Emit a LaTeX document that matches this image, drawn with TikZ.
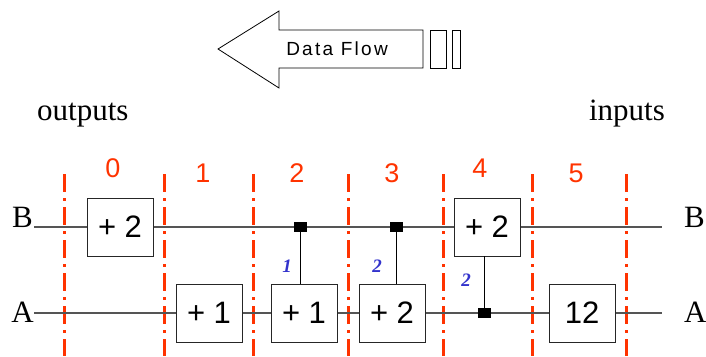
\documentclass[tikz,border=0pt]{standalone}
\usepackage{fontspec}
\setmainfont{Liberation Serif}
\newfontfamily\opfont{Liberation Sans}
\newfontfamily\flowfont[LetterSpace=12]{Liberation Sans}
\definecolor{stagered}{RGB}{255,51,0}
\definecolor{wirecol}{RGB}{85,85,85}
\definecolor{weightblue}{RGB}{51,51,204}
\tikzset{
  op/.style={draw=black!85,fill=white,line width=0.9pt,minimum width=66pt,
             minimum height=58pt,inner sep=0pt,
             font=\opfont\fontsize{31}{31}\selectfont},
  tap/.style={fill=black,minimum width=13pt,minimum height=10pt,inner sep=0pt},
  stage/.style={stagered,line width=3pt,dash pattern=on 18pt off 6pt on 3pt off 6pt},
  stagenum/.style={text=stagered,anchor=base,font=\opfont\fontsize{27}{27}\selectfont},
  wire/.style={wirecol,line width=1.2pt},
  weight/.style={text=weightblue,font=\bfseries\itshape\fontsize{19}{19}\selectfont},
  side/.style={inner sep=0pt,font=\fontsize{31}{31}\selectfont}}

\begin{document}
\begin{tikzpicture}[x=1pt,y=-1pt]
  \def\yB{227}  % wire B
  \def\yA{313}  % wire A
  \useasboundingbox (0,0) rectangle (706,356);
  \coordinate (Bl) at (34,\yB);   % left end wire B
  \coordinate (Br) at (662,\yB);  % right end wire B
  \coordinate (Al) at (34,\yA);   % left end wire A
  \coordinate (Ar) at (662,\yA);  % right end wire A

  % DATA FLOW ARROW
  \draw[line width=0.8pt] (218,49) -- (279,11) -- (279,30) -- (423,30)
    -- (423,68) -- (279,68) -- (279,88) -- cycle;
  \draw[line width=0.8pt] (430,30) rectangle (446,68);
  \draw[line width=0.8pt] (452,30) rectangle (460,68);
  \node[font=\flowfont\fontsize{19}{19}\selectfont] (flow) at (337,49) {Data Flow};
  \node[side,anchor=base west] (out) at (37,120) {outputs};
  \node[side,anchor=base east] (in) at (665,120) {inputs};

  % STAGES
  \foreach \x in {64,164,253,348,443,532,626}
    \draw[stage] (\x,174) -- (\x,356);
  \foreach \x/\y/\n in {113/177/0,203/182/1,297/182/2,392/182/3,480/177/4,576/182/5}
    \node[stagenum] (s\n) at (\x,\y) {\n};

  % WIRES
  \draw[wire] (Bl) -- (Br);
  \draw[wire] (Al) -- (Ar);
  \node[side,anchor=base east] (lB) at (33,\yB) {B};
  \node[side,anchor=base east] (lA) at (34,322) {A};
  \node[side,anchor=base west] (rB) at (684,\yB) {B};
  \node[side,anchor=base west] (rA) at (684,322) {A};

  % OPERATORS
  \node[op] (b0) at (120,\yB) {+ 2};
  \node[op] (a1) at (209,\yA) {+ 1};
  \node[op] (a2) at (304,\yA) {+ 1};
  \node[op] (a3) at (392,\yA) {+ 2};
  \node[op] (b4) at (487,\yB) {+ 2};
  \node[op] (a5) at (582,\yA) {12};

  % TAPS
  \coordinate (t2) at (300.5,\yB);
  \coordinate (t3) at (396,\yB);
  \coordinate (t4) at (484.5,\yA);
  \draw[line width=0.9pt] (t2) -- (t2 |- a2.north);
  \draw[line width=0.9pt] (t3) -- (t3 |- a3.north);
  \draw[line width=0.9pt] (t4 |- b4.south) -- (t4);
  \node[tap] (d2) at (t2) {};
  \node[tap] (d3) at (t3) {};
  \node[tap] (d4) at (t4) {};
  \node[weight] (w2) at (287,266) {1};
  \node[weight] (w3) at (377,266) {2};
  \node[weight] (w4) at (466,280) {2};
\end{tikzpicture}
\end{document}
